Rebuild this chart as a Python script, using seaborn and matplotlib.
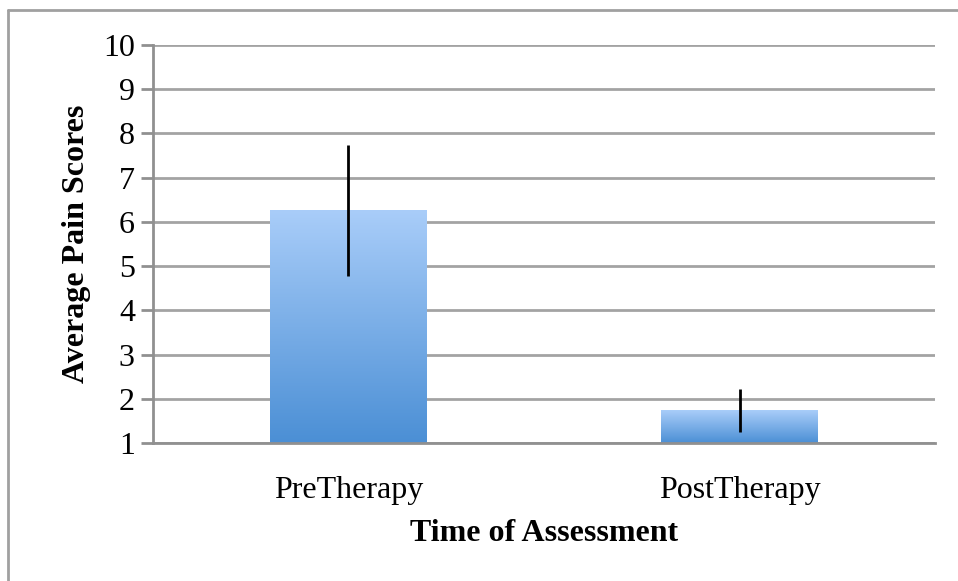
import numpy as np
import pandas as pd
import seaborn as sns
import matplotlib.pyplot as plt
from matplotlib.colors import LinearSegmentedColormap
from matplotlib.lines import Line2D

# values
phases = ["PreTherapy", "PostTherapy"]
pain_means = [6.26, 1.74]
pain_errors = [1.49, 0.48]
y_ticks = [1, 2, 3, 4, 5, 6, 7, 8, 9, 10]

df = pd.DataFrame({"phase": phases, "pain": pain_means})

sns.set_style("white")
plt.rcParams["font.family"] = ["Liberation Serif", "DejaVu Serif"]
plt.rcParams["text.color"] = "black"
plt.rcParams["axes.labelcolor"] = "black"
plt.rcParams["xtick.labelcolor"] = "black"
plt.rcParams["ytick.labelcolor"] = "black"

fig = plt.figure(figsize=(9.58, 5.81), dpi=100)
ax = fig.add_axes([0.1597, 0.2375, 0.8163, 0.685])

sns.barplot(data=df, x="phase", y="pain", color="#79aee8", width=0.4,
            errorbar=None, ax=ax, zorder=2)

# gradient fill: light blue on top, deeper blue at the base
grad = LinearSegmentedColormap.from_list("bluegrad", ["#4b8fd5", "#a9cdf9"])
for bar in ax.patches:
    x0 = bar.get_x()
    w = bar.get_width()
    h = bar.get_height()
    bar.set_facecolor("none")
    bar.set_edgecolor("none")
    img = ax.imshow(np.linspace(0, 1, 256).reshape(-1, 1), cmap=grad,
                    origin="lower", aspect="auto",
                    extent=[x0, x0 + w, 1, h], zorder=2)
    img.set_clip_path(bar)

ax.errorbar(range(len(phases)), pain_means, yerr=pain_errors, fmt="none",
            ecolor="black", elinewidth=2, capsize=0, zorder=3)

ax.set_ylim(1, 10)
ax.set_xlim(-0.5, 1.5)
ax.set_yticks(y_ticks)
ax.yaxis.grid(True, color="#a3a3a3", linewidth=2, zorder=0)
ax.set_axisbelow(True)

ax.set_xticks([0, 1])
ax.set_xticklabels(phases)
ax.set_xticks([-0.5, 0.5, 1.5], minor=True)
ax.tick_params(axis="x", which="major", length=0, labelsize=23, pad=24)
ax.tick_params(axis="x", which="minor", length=8, width=2, color="#909090")
ax.tick_params(axis="y", length=9, width=2, color="#909090", labelsize=23, pad=4, left=True)

for side in ["top", "right"]:
    ax.spines[side].set_visible(False)
for side in ["left", "bottom"]:
    ax.spines[side].set_color("#909090")
    ax.spines[side].set_linewidth(2)

ax.set_xlabel("Time of Assessment", fontsize=23, fontweight="bold", labelpad=10)
ax.set_ylabel("Average Pain Scores", fontsize=23, fontweight="bold", labelpad=9)

# outer frame of the chart area
fig.add_artist(Line2D([8 / 958, 8 / 958], [0, 1 - 10 / 581], color="#a0a0a0", linewidth=2))
fig.add_artist(Line2D([8 / 958, 1], [1 - 10 / 581, 1 - 10 / 581], color="#a0a0a0", linewidth=2))

fig.savefig("out.png", dpi=100)
